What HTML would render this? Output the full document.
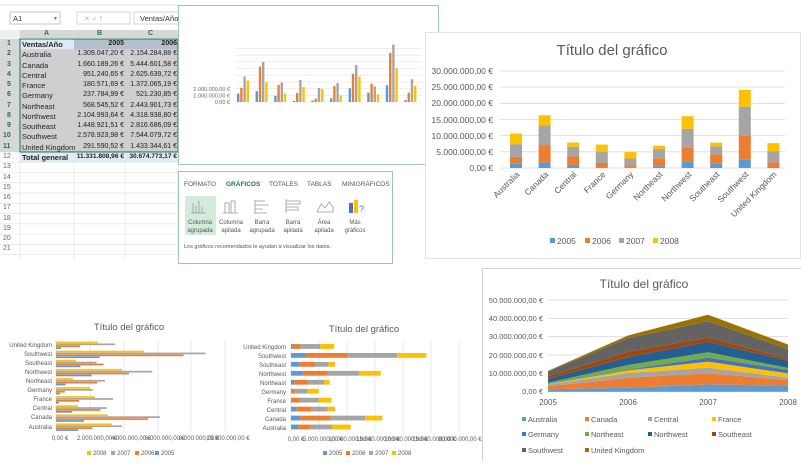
<!DOCTYPE html>
<html><head><meta charset="utf-8">
<style>
html,body{margin:0;padding:0;background:#fff;}
body{width:801px;height:461px;overflow:hidden;position:relative;font-family:"Liberation Sans",sans-serif;}
svg text{font-family:"Liberation Sans",sans-serif;}
#cells div{white-space:nowrap;}
</style></head>
<body>
<svg id="s" width="801" height="461" xmlns="http://www.w3.org/2000/svg">
<rect width="801" height="461" fill="#fff"/>
<line x1="0" y1="5" x2="180" y2="5" stroke="#e6e6e6"/>
<rect x="10" y="12" width="50" height="12" fill="#fff" stroke="#c6c6c6"/>
<text x="13" y="21" font-size="7.5" fill="#333">A1</text>
<text x="54" y="20" font-size="6" fill="#777">▾</text>
<rect x="77" y="12" width="53" height="12" fill="#fff" stroke="#d6d6d6"/>
<text x="84" y="21" font-size="7" fill="#bbb">✕   ✓   𝑓</text>
<rect x="134" y="12" width="50" height="12" fill="#fff" stroke="#d6d6d6"/>
<text x="140" y="21" font-size="7.5" fill="#333">Ventas/Año</text>
<g id="sheet"></g>
<rect x="178.5" y="5.5" width="260" height="159" fill="#fff" stroke="#9cc7ab"/>
<g id="mini"></g>
<text x="230" y="91" font-size="5.5" fill="#666" text-anchor="end">2.000.000,00 €</text>
<text x="230" y="97.5" font-size="5.5" fill="#666" text-anchor="end">1.000.000,00 €</text>
<text x="230" y="104" font-size="5.5" fill="#666" text-anchor="end">0,00 €</text>
<rect x="178.5" y="171.5" width="214" height="92" fill="#fff" stroke="#9cc7ab"/>
<text x="184" y="186" font-size="6.5" fill="#555">FORMATO</text>
<text x="226" y="186" font-size="6.5" fill="#217346" font-weight="bold">GRÁFICOS</text>
<text x="269" y="186" font-size="6.5" fill="#555">TOTALES</text>
<text x="307" y="186" font-size="6.5" fill="#555">TABLAS</text>
<text x="342" y="186" font-size="6.5" fill="#555">MINIGRÁFICOS</text>
<rect x="185" y="196" width="31" height="39" fill="#d3ebdb"/>
<g font-size="6" fill="#555" text-anchor="middle">
<text x="200" y="224">Columna</text><text x="200" y="232">agrupada</text>
<text x="231" y="224">Columna</text><text x="231" y="232">apilada</text>
<text x="262" y="224">Barra</text><text x="262" y="232">agrupada</text>
<text x="293" y="224">Barra</text><text x="293" y="232">apilada</text>
<text x="324" y="224">Área</text><text x="324" y="232">apilada</text>
<text x="355" y="224">Más</text><text x="355" y="232">gráficos</text>
</g>
<g fill="none" stroke="#999" stroke-width="0.8">
<path d="M193 213V203M196 213V206M199 213V201M202 213V207M191 213H206"/>
<path d="M225 213V203h4v10M231 213V201h4v12M223 213H238"/>
<path d="M255 201h10M255 205h14M255 209h8M255 213h12M255 200v14"/>
<path d="M286 201h14v3h-14zM286 207h12v3h-12zM286 199v14"/>
<path d="M317 212l4-8 4 4 4-6 4 5v5z"/>
</g>
<rect x="349" y="203" width="4" height="10" fill="#4472c4"/><rect x="354" y="200" width="4" height="13" fill="#ffc000"/>
<text x="359" y="212" font-size="9" fill="#4472c4">?</text>
<text x="184" y="248" font-size="5.5" fill="#555">Los gráficos recomendados le ayudan a visualizar los datos.</text>
<rect x="425.5" y="32.5" width="375" height="226" fill="#fff" stroke="#e2e2e2"/>
<text x="612" y="55" font-size="15" fill="#595959" text-anchor="middle">Título del gráfico</text>
<g id="sc"></g>
<g font-size="8.5" fill="#595959" text-anchor="end">
<text x="493" y="74">30.000.000,00 €</text>
<text x="493" y="90">25.000.000,00 €</text>
<text x="493" y="106">20.000.000,00 €</text>
<text x="493" y="123">15.000.000,00 €</text>
<text x="493" y="139">10.000.000,00 €</text>
<text x="493" y="155">5.000.000,00 €</text>
<text x="493" y="171">0,00 €</text>
</g>
<g font-size="8.5" fill="#595959" text-anchor="end">
<text transform="translate(520,175) rotate(-45)">Australia</text>
<text transform="translate(549,175) rotate(-45)">Canada</text>
<text transform="translate(577,175) rotate(-45)">Central</text>
<text transform="translate(606,175) rotate(-45)">France</text>
<text transform="translate(634,175) rotate(-45)">Germany</text>
<text transform="translate(663,175) rotate(-45)">Northeast</text>
<text transform="translate(692,175) rotate(-45)">Northwest</text>
<text transform="translate(720,175) rotate(-45)">Southeast</text>
<text transform="translate(749,175) rotate(-45)">Southwest</text>
<text transform="translate(777,175) rotate(-45)">United Kingdom</text>
</g>
<g font-size="8.5" fill="#595959">
<rect x="550" y="238" width="5" height="5" fill="#5b9bd5"/><text x="557" y="244">2005</text>
<rect x="585" y="238" width="5" height="5" fill="#ed7d31"/><text x="592" y="244">2006</text>
<rect x="619" y="238" width="5" height="5" fill="#a5a5a5"/><text x="626" y="244">2007</text>
<rect x="653" y="238" width="5" height="5" fill="#ffc000"/><text x="660" y="244">2008</text>
</g>
<text x="129" y="330" font-size="9.5" fill="#595959" text-anchor="middle">Título del gráfico</text>
<g id="cb"></g>
<g font-size="6" fill="#595959" text-anchor="end">
<text x="52" y="347">United Kingdom</text><text x="52" y="356">Southwest</text><text x="52" y="365">Southeast</text>
<text x="52" y="374">Northwest</text><text x="52" y="383">Northeast</text><text x="52" y="392">Germany</text>
<text x="52" y="401">France</text><text x="52" y="410">Central</text><text x="52" y="419">Canada</text><text x="52" y="429">Australia</text>
</g>
<g font-size="6" fill="#595959" text-anchor="middle">
<text x="60" y="440">0,00 €</text><text x="97" y="440">2.000.000,00 €</text><text x="131" y="440">4.000.000,00 €</text>
<text x="165" y="440">6.000.000,00 €</text><text x="199" y="440">8.000.000,00 €</text><text x="228" y="440">10.000.000,00 €</text>
</g>
<g font-size="6" fill="#595959">
<rect x="87" y="451" width="4" height="4" fill="#ffc000"/><text x="93" y="455">2008</text>
<rect x="111" y="451" width="4" height="4" fill="#a5a5a5"/><text x="117" y="455">2007</text>
<rect x="135" y="451" width="4" height="4" fill="#ed7d31"/><text x="141" y="455">2006</text>
<rect x="155" y="451" width="4" height="4" fill="#5b9bd5"/><text x="161" y="455">2005</text>
</g>
<text x="364" y="332" font-size="9.5" fill="#595959" text-anchor="middle">Título del gráfico</text>
<g id="sb"></g>
<g font-size="6" fill="#595959" text-anchor="end">
<text x="286" y="349">United Kingdom</text><text x="286" y="358">Southwest</text><text x="286" y="367">Southeast</text>
<text x="286" y="376">Northwest</text><text x="286" y="385">Northeast</text><text x="286" y="394">Germany</text>
<text x="286" y="403">France</text><text x="286" y="412">Central</text><text x="286" y="421">Canada</text><text x="286" y="430">Australia</text>
</g>
<g font-size="6" fill="#595959" text-anchor="middle">
<text x="296" y="441">0,00 €</text><text x="323" y="441">5.000.000,00 €</text><text x="350" y="441">10.000.000,00 €</text>
<text x="378" y="441">15.000.000,00 €</text><text x="406" y="441">20.000.000,00 €</text><text x="434" y="441">25.000.000,00 €</text><text x="460" y="441">30.000.000,00 €</text>
</g>
<g font-size="6" fill="#595959">
<rect x="323" y="451" width="4" height="4" fill="#5b9bd5"/><text x="329" y="455">2005</text>
<rect x="346" y="451" width="4" height="4" fill="#ed7d31"/><text x="352" y="455">2006</text>
<rect x="369" y="451" width="4" height="4" fill="#a5a5a5"/><text x="375" y="455">2007</text>
<rect x="392" y="451" width="4" height="4" fill="#ffc000"/><text x="398" y="455">2008</text>
</g>
<rect x="482.5" y="268.5" width="320" height="194" fill="#fff" stroke="#d0d0d0"/>
<text x="644" y="288" font-size="12" fill="#595959" text-anchor="middle">Título del gráfico</text>
<g id="ar"></g>
<g font-size="7.5" fill="#595959" text-anchor="end">
<text x="543" y="303">50.000.000,00 €</text><text x="543" y="321">40.000.000,00 €</text><text x="543" y="339">30.000.000,00 €</text>
<text x="543" y="358">20.000.000,00 €</text><text x="543" y="376">10.000.000,00 €</text><text x="543" y="394">0,00 €</text>
</g>
<g font-size="8" fill="#595959" text-anchor="middle">
<text x="548" y="405">2005</text><text x="628" y="405">2006</text><text x="708" y="405">2007</text><text x="788" y="405">2008</text>
</g>
<g font-size="7.5" fill="#595959">
<rect x="522" y="417" width="4" height="4" fill="#5b9bd5"/><text x="528" y="422">Australia</text>
<rect x="585" y="417" width="4" height="4" fill="#ed7d31"/><text x="591" y="422">Canada</text>
<rect x="648" y="417" width="4" height="4" fill="#a5a5a5"/><text x="654" y="422">Central</text>
<rect x="712" y="417" width="4" height="4" fill="#ffc000"/><text x="718" y="422">France</text>
<rect x="522" y="432" width="4" height="4" fill="#4472c4"/><text x="528" y="437">Germany</text>
<rect x="585" y="432" width="4" height="4" fill="#70ad47"/><text x="591" y="437">Northeast</text>
<rect x="648" y="432" width="4" height="4" fill="#255e91"/><text x="654" y="437">Northwest</text>
<rect x="712" y="432" width="4" height="4" fill="#9e480e"/><text x="718" y="437">Southeast</text>
<rect x="522" y="448" width="4" height="4" fill="#636363"/><text x="528" y="453">Southwest</text>
<rect x="585" y="448" width="4" height="4" fill="#997300"/><text x="591" y="453">United Kingdom</text>
</g>
</svg>
<div id="cells" style="position:absolute;left:0;top:0;width:180px;height:260px;overflow:hidden;font-size:7.5px;color:#222;"></div>
<script>
var NS="http://www.w3.org/2000/svg";
function el(p,t,a){var e=document.createElementNS(NS,t);for(var k in a)e.setAttribute(k,a[k]);document.getElementById(p).appendChild(e);return e;}
var d=[[1.309,1.660,0.951,0.181,0.238,0.569,2.105,1.449,2.579,0.292],
[2.154,5.445,2.626,1.372,0.521,2.444,4.319,2.817,7.544,1.433],
[3.9,6.15,3.0,3.38,2.17,2.9,5.7,2.4,8.85,3.5],
[3.3,3.06,1.3,2.3,2.0,1.0,3.9,1.18,5.2,2.47]];
var yc=["#5b9bd5","#ed7d31","#a5a5a5","#ffc000"];
var rh=10.27,top0=39;
el("sheet","rect",{x:0,y:30,width:180,height:8,fill:"#f0f0f0"});
el("sheet","rect",{x:20,y:30,width:158,height:8,fill:"#d7d7d7"});
for(var i=0;i<22;i++){var y=top0+i*rh;el("sheet","line",{x1:0,x2:180,y1:y,y2:y,stroke:"#e0e0e0","stroke-width":0.6});}
[20,74,125,178].forEach(function(x){el("sheet","line",{x1:x,x2:x,y1:30,y2:260,stroke:"#e0e0e0","stroke-width":0.6});});
el("sheet","rect",{x:0,y:39,width:20,height:11*rh,fill:"#d7d7d7"});
el("sheet","rect",{x:20,y:39+rh,width:158,height:10*rh,fill:"#cfcfcf"});
el("sheet","rect",{x:20,y:39,width:54,height:rh,fill:"#ddebf7"});
el("sheet","rect",{x:74,y:39,width:104,height:rh,fill:"#b4bfcc"});
el("sheet","rect",{x:20,y:39+11*rh,width:158,height:rh,fill:"#ddebf7"});
el("sheet","rect",{x:20,y:39,width:158,height:11*rh,fill:"none",stroke:"#217346","stroke-width":1});
var hdr=[["A",47],["B",100],["C",151]];
var txt="";
hdr.forEach(function(h){txt+='<div style="position:absolute;left:'+(h[1]-3)+'px;top:30px;color:#217346;font-weight:bold;font-size:7px">'+h[0]+'</div>';});
var rows=[["Ventas/Año","2005","2006"],["Australia","1.309.047,20 €","2.154.284,88 €"],["Canada","1.660.189,26 €","5.444.601,58 €"],["Central","951.240,65 €","2.625.639,72 €"],["France","180.571,69 €","1.372.065,19 €"],["Germany","237.784,99 €","521.230,85 €"],["Northeast","568.545,52 €","2.443.901,73 €"],["Northwest","2.104.993,64 €","4.318.938,80 €"],["Southeast","1.448.921,51 €","2.816.686,09 €"],["Southwest","2.578.923,98 €","7.544.079,72 €"],["United Kingdom","291.590,52 €","1.433.344,61 €"],["Total general","11.331.808,96 €","30.674.773,17 €"]];
for(var r=0;r<21;r++){var y=top0+r*rh;var c=r<11?"#217346":"#666";
txt+='<div style="position:absolute;left:'+(r<9?7:3)+'px;top:'+(y+1)+'px;font-size:7px;color:'+c+';font-weight:'+(r<11?'bold':'normal')+'">'+(r+1)+'</div>';
if(r<12){var b=(r==0||r==11)?'bold':'normal';
txt+='<div style="position:absolute;left:22px;top:'+(y+1)+'px;font-weight:'+b+'">'+rows[r][0]+'</div>';
txt+='<div style="position:absolute;left:74px;width:50px;text-align:right;top:'+(y+1)+'px;font-weight:'+b+';font-size:'+(r==11?'6.6px':'7px')+'">'+rows[r][1]+'</div>';
txt+='<div style="position:absolute;left:125px;width:52px;text-align:right;top:'+(y+1)+'px;font-weight:'+b+';font-size:'+(r==11?'6.6px':'7px')+'">'+rows[r][2]+'</div>';}}
document.getElementById("cells").innerHTML=txt;
for(var g=0;g<9;g++){var y=102-g*6.7;el("mini","line",{x1:235,x2:422,y1:y,y2:y,stroke:"#e4e4e4","stroke-width":0.6});}
for(var i=0;i<10;i++){var cx=243+i*18.6;for(var s=0;s<4;s++){var h=d[s][i]*6.5;el("mini","rect",{x:cx-6+s*3.2,y:102-h,width:2.4,height:h,fill:yc[s]});}}
for(var g=0;g<7;g++){var y=168-g*16.17;el("sc","line",{x1:500,x2:785,y1:y,y2:y,stroke:"#d9d9d9","stroke-width":0.8});}
for(var i=0;i<10;i++){var cx=516+i*28.6,b=168;for(var s=0;s<4;s++){var h=d[s][i]*3.233;el("sc","rect",{x:cx-6,y:b-h,width:12,height:h,fill:yc[s]});b-=h;}}
[56,90,124,158,191,225].forEach(function(x){el("cb","line",{x1:x,x2:x,y1:340,y2:431,stroke:"#d9d9d9","stroke-width":0.6});});
for(var i=0;i<10;i++){var cy=427-i*9.1;for(var s=0;s<4;s++){var w=d[s][i]*16.9;el("cb","rect",{x:56,y:cy+2.2-s*1.9,width:w,height:1.7,fill:yc[s]});}}
for(var g=0;g<7;g++){var x=291+g*28;el("sb","line",{x1:x,x2:x,y1:341,y2:432,stroke:"#d9d9d9","stroke-width":0.6});}
for(var i=0;i<10;i++){var cy=427-i*8.95,x=291;for(var s=0;s<4;s++){var w=d[s][i]*5.6;el("sb","rect",{x:x,y:cy-2.4,width:w,height:4.8,fill:yc[s]});x+=w;}}
for(var g=0;g<6;g++){var y=391.7-g*18.34;el("ar","line",{x1:548,x2:788,y1:y,y2:y,stroke:"#d9d9d9","stroke-width":0.8});}
var ac=["#5b9bd5","#ed7d31","#a5a5a5","#ffc000","#4472c4","#70ad47","#255e91","#9e480e","#636363","#997300"];
var cum=[0,0,0,0];
for(var i=0;i<10;i++){var lo=cum.slice();for(var t=0;t<4;t++)cum[t]+=d[t][i];
var p="";for(var t=0;t<4;t++)p+=(t?"L":"M")+(548+t*80)+" "+(391.7-cum[t]*1.834);
for(var t=3;t>=0;t--)p+="L"+(548+t*80)+" "+(391.7-lo[t]*1.834);
el("ar","path",{d:p+"Z",fill:ac[i]});}
</script>
</body></html>
